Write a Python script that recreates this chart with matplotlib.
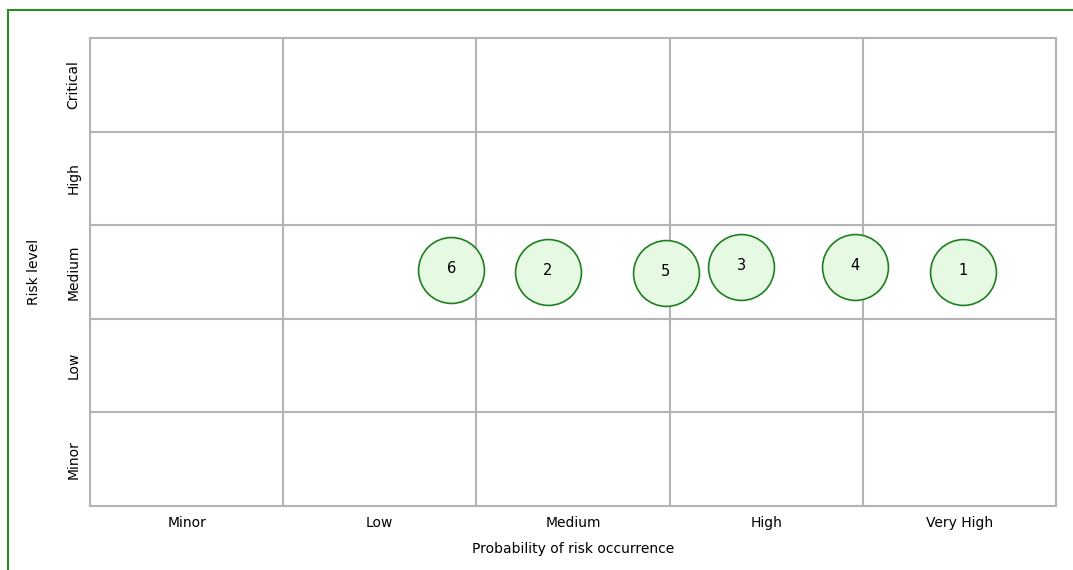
import matplotlib.pyplot as plt
from matplotlib.lines import Line2D

# Risk matrix data
prob_labels = ["Minor", "Low", "Medium", "High", "Very High"]
level_labels = ["Minor", "Low", "Medium", "High", "Critical"]
risk_ids = ["6", "2", "5", "3", "4", "1"]
risk_prob = [1.87, 2.37, 2.98, 3.37, 3.96, 4.52]
risk_level = [2.52, 2.50, 2.49, 2.55, 2.55, 2.50]

plt.rcParams["font.family"] = ["DejaVu Sans"]

fig = plt.figure(figsize=(10.73, 5.70), dpi=100)
ax = fig.add_axes([90 / 1073, 1 - 506 / 570, 966 / 1073, 468 / 570])

# grid of cells
for i in range(6):
    ax.axvline(i, color="#b4b4b4", lw=1.5, zorder=1, clip_on=False)
    ax.axhline(i, color="#b4b4b4", lw=1.5, zorder=1, clip_on=False)
ax.set_xlim(0, 5)
ax.set_ylim(0, 5)
for s in ax.spines.values():
    s.set_visible(False)

ax.set_xticks([i + 0.5 for i in range(5)])
ax.set_xticklabels(prob_labels, fontsize=10)
ax.set_yticks([i + 0.5 for i in range(5)])
ax.set_yticklabels(level_labels, fontsize=10, rotation=90, va="center")
ax.tick_params(length=0, pad=7)
ax.set_xlabel("Probability of risk occurrence", fontsize=10, labelpad=9)
ax.set_ylabel("Risk level", fontsize=10, labelpad=18)

ax.scatter(risk_prob, risk_level, s=2250, facecolor="#e6f9e3",
           edgecolor="#1f7f1f", linewidth=1.2, zorder=3, clip_on=False)
for x, y, t in zip(risk_prob, risk_level, risk_ids):
    ax.text(x, y + 0.02, t, ha="center", va="center", fontsize=10.5, zorder=4)

# green frame around the chart
fig.add_artist(Line2D([8 / 1073, 8 / 1073], [0, 1 - 10 / 570],
                      transform=fig.transFigure, color="#2a8a2a", lw=1.5))
fig.add_artist(Line2D([8 / 1073, 1], [1 - 10 / 570, 1 - 10 / 570],
                      transform=fig.transFigure, color="#2a8a2a", lw=1.5))

fig.savefig("out.png", dpi=100)
